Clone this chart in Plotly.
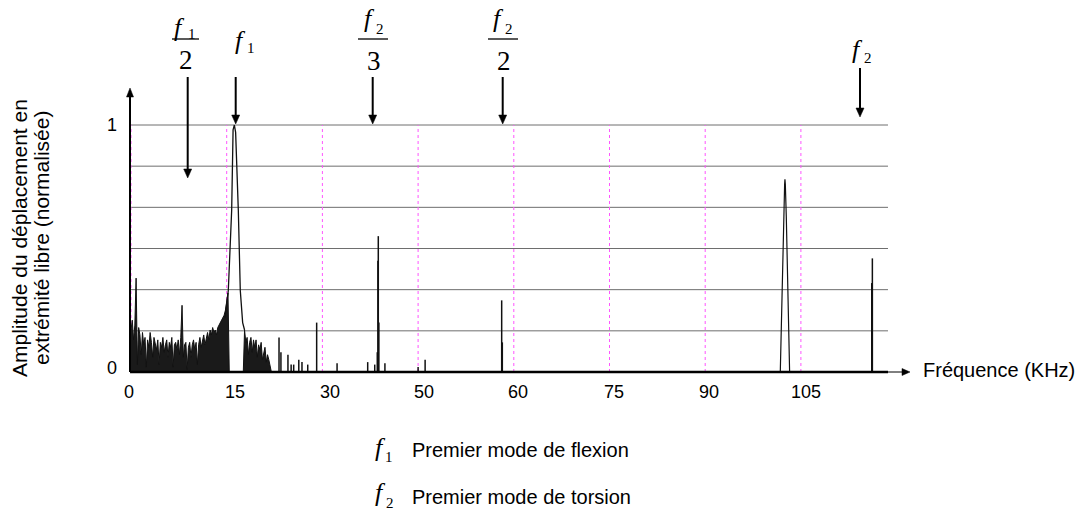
import plotly.graph_objects as go

# ---------------- data ----------------
# dense low-frequency part of the spectrum (kHz start, step, normalised amplitude)
noise_start = 0.0
noise_step = 0.2
noise_amp = [
    0.17, 0.21, 0.13, 0.19, 0.38, 0.03, 0.18, 0.15, 0.07, 0.16,
    0.11, 0.14, 0.02, 0.13, 0.10, 0.16, 0.12, 0.06, 0.14, 0.11,
    0.09, 0.13, 0.03, 0.12, 0.10, 0.14, 0.08, 0.11, 0.13, 0.06,
    0.12, 0.10, 0.14, 0.02, 0.11, 0.12, 0.09, 0.13, 0.07, 0.14,
    0.27, 0.06, 0.11, 0.12, 0.01, 0.10, 0.12, 0.06, 0.11, 0.13,
    0.09, 0.12, 0.03, 0.11, 0.14, 0.10, 0.12, 0.15, 0.11, 0.14,
    0.16, 0.13, 0.17, 0.15, 0.18, 0.16, 0.17, 0.15, 0.18, 0.19,
    0.20, 0.21, 0.22, 0.23, 0.25, 0.28, 0.32, 0.00, 0.00, 0.00,
    0.00, 0.00, 0.00, 0.00, 0.00, 0.00, 0.00, 0.00, 0.00, 0.17,
    0.12, 0.14, 0.07, 0.12, 0.14, 0.08, 0.13, 0.10, 0.13, 0.06,
    0.11, 0.09, 0.12, 0.05, 0.08, 0.10, 0.04, 0.07, 0.05, 0.02,
    0.00,
]

# first bending mode peak (f1)
f1_peak_freq = [14.73, 15.25, 15.78, 16.0, 16.2, 16.4, 16.82, 17.13, 17.5, 17.8]
f1_peak_amp = [0.22, 0.33, 0.656, 0.98, 1.0, 0.97, 0.656, 0.33, 0.20, 0.17]

# peak near 102.5 kHz
p2_freq = [101.77, 102.05, 102.29, 102.45, 102.5, 102.56, 102.71, 102.93, 103.23]
p2_amp = [0.0, 0.36, 0.63, 0.76, 0.78, 0.76, 0.63, 0.36, 0.0]

# isolated spectral lines
line_freq = [23.2, 23.5, 24.6, 25.1, 25.5, 26.3, 26.8, 27.7, 29.1, 32.3,
             37.1, 38.2, 38.6, 38.7, 38.76, 38.85, 39.8, 45.0, 46.1,
             58.1, 58.2, 116.1, 116.2]
line_amp = [0.14, 0.08, 0.07, 0.03, 0.03, 0.05, 0.04, 0.03, 0.20, 0.035,
            0.04, 0.03, 0.08, 0.45, 0.55, 0.20, 0.035, 0.02, 0.05,
            0.29, 0.12, 0.36, 0.46]

# axis ticks
x_tick_pos = [-0.3, 16.3, 31.2, 45.9, 60.7, 75.7, 90.6, 105.8]
x_tick_text = ["0", "15", "30", "50", "60", "75", "90", "105"]
y_tick_pos = [0.016, 1.0]
y_tick_text = ["0", "1"]
grid_y = [1 / 6, 2 / 6, 3 / 6, 4 / 6, 5 / 6, 1.0]
grid_x = [0, 15, 30, 45, 60, 75, 90, 105]
x_end = 118.65

# ---------------- helpers (layout placement, page pixels -> axis units) ----------------
W, H = 1079, 513


def X(px):
    return (px - 131) / 6.38


def Y(py):
    return (372 - py) / 247


SANS = "Liberation Sans, Arial, sans-serif"
SERIF = "Liberation Serif, Times New Roman, serif"

fig = go.Figure()

noise_freq = [noise_start + noise_step * i for i in range(len(noise_amp))]
fig.add_trace(go.Scatter(x=noise_freq, y=noise_amp, mode="lines",
                         line=dict(color="#111111", width=1),
                         fill="tozeroy", fillcolor="#1a1a1a",
                         hoverinfo="skip", showlegend=False))
fig.add_trace(go.Scatter(x=f1_peak_freq, y=f1_peak_amp, mode="lines",
                         line=dict(color="#111111", width=1.3),
                         hoverinfo="skip", showlegend=False))
fig.add_trace(go.Scatter(x=p2_freq, y=p2_amp, mode="lines",
                         line=dict(color="#111111", width=1.2),
                         hoverinfo="skip", showlegend=False))
lx, ly = [], []
for f, a in zip(line_freq, line_amp):
    lx += [f, f, None]
    ly += [0, a, None]
fig.add_trace(go.Scatter(x=lx, y=ly, mode="lines",
                         line=dict(color="#111111", width=1.5),
                         hoverinfo="skip", showlegend=False))

shapes = []
for gy in grid_y:
    shapes.append(dict(type="line", xref="x", yref="y", x0=0, x1=x_end, y0=gy, y1=gy,
                       line=dict(color="#6e6e6e", width=1), layer="below"))
for gx in grid_x:
    shapes.append(dict(type="line", xref="x", yref="y", x0=gx, x1=gx, y0=0, y1=1.0,
                       line=dict(color="#ff55ff", width=1, dash="dot"), layer="below"))
shapes.append(dict(type="line", xref="x", yref="y", x0=-0.15, x1=x_end, y0=0, y1=0,
                   line=dict(color="black", width=2.5)))


def arrow(x0p, y0p, x1p, y1p, width, hl, hw):
    """Arrow from page pixel (x0p,y0p) to tip (x1p,y1p)."""
    dx, dy = x1p - x0p, y1p - y0p
    n = (dx * dx + dy * dy) ** 0.5
    ux, uy = dx / n, dy / n
    bx, by = x1p - ux * hl, y1p - uy * hl
    px_, py_ = -uy, ux
    shapes.append(dict(type="line", xref="x", yref="y", x0=X(x0p), y0=Y(y0p),
                       x1=X(bx + ux * 1), y1=Y(by + uy * 1),
                       line=dict(color="black", width=width)))
    path = "M {},{} L {},{} L {},{} Z".format(
        X(x1p), Y(y1p),
        X(bx + px_ * hw / 2), Y(by + py_ * hw / 2),
        X(bx - px_ * hw / 2), Y(by - py_ * hw / 2))
    shapes.append(dict(type="path", xref="x", yref="y", path=path,
                       fillcolor="black", line=dict(color="black", width=0.5)))


# axis arrows
arrow(130, 372, 130, 88, 2, 9, 7)
arrow(887, 372, 910, 372, 1, 8, 7)

# frequency marker arrows
arrow_px = [(187.7, 77, 178), (235.7, 77, 124), (372.7, 77, 124), (502.7, 77, 124), (860, 68, 117)]
for xp, y0p, y1p in arrow_px:
    arrow(xp, y0p, xp, y1p, 2, 9, 8)

annotations = []


def text(px, py, t, size, family=SANS, anchor="center", italic=False, angle=0):
    font = dict(family=family, size=size, color="black")
    if italic:
        font["style"] = "italic"
    annotations.append(dict(x=X(px), y=Y(py), xref="x", yref="y", text=t, showarrow=False,
                            xanchor=anchor, yanchor="middle", textangle=angle, font=font))


for p, t in zip(x_tick_pos, x_tick_text):
    annotations.append(dict(x=p, y=Y(392), xref="x", yref="y", text=t, showarrow=False,
                            xanchor="center", yanchor="middle",
                            font=dict(family=SANS, size=18, color="black")))
for p, t in zip(y_tick_pos, y_tick_text):
    annotations.append(dict(x=X(112), y=p, xref="x", yref="y", text=t, showarrow=False,
                            xanchor="center", yanchor="middle",
                            font=dict(family=SANS, size=18, color="black")))

text(921, 370, "Fréquence (KHz)", 20, anchor="left")
text(19, 238, "Amplitude du déplacement en", 21, angle=-90)
text(41, 238, "extrémité libre (normalisée)", 21, angle=-90)


def fsym(fx, fy, sub, sx, sy):
    """italic f with subscript digit; positions are glyph centres in page pixels."""
    text(fx, fy - 3, "f", 26, family=SERIF, italic=True)
    text(sx, sy, sub, 15, family=SERIF)


# fraction labels f1/2, f2/3, f2/2
fsym(179.5, 30, "1", 192, 34)
text(186, 60, "2", 27, family=SERIF)
shapes.append(dict(type="line", xref="x", yref="y", x0=X(172), x1=X(199), y0=Y(39), y1=Y(39),
                   line=dict(color="black", width=1.3)))

fsym(369, 21, "2", 379.5, 29)
text(373.5, 61, "3", 27, family=SERIF)
shapes.append(dict(type="line", xref="x", yref="y", x0=X(358), x1=X(388), y0=Y(39), y1=Y(39),
                   line=dict(color="black", width=1.3)))

fsym(498.5, 21, "2", 509, 29)
text(503.5, 61, "2", 27, family=SERIF)
shapes.append(dict(type="line", xref="x", yref="y", x0=X(488), x1=X(518), y0=Y(39), y1=Y(39),
                   line=dict(color="black", width=1.3)))

# single labels f1, f2
fsym(240.5, 43.5, "1", 250.5, 48)
fsym(857.5, 52.5, "2", 868, 58)

# notes
fsym(380, 450, "1", 389, 457)
text(410, 450, "Premier mode de flexion", 20, anchor="left")
fsym(380, 495.5, "2", 389.5, 503)
text(410, 497, "Premier mode de torsion", 20, anchor="left")

fig.update_layout(
    width=W, height=H,
    margin=dict(l=0, r=0, t=0, b=0, pad=0),
    paper_bgcolor="white", plot_bgcolor="white",
    xaxis=dict(range=[X(0), X(W)], visible=False, fixedrange=True),
    yaxis=dict(range=[Y(H), Y(0)], visible=False, fixedrange=True),
    shapes=shapes, annotations=annotations, showlegend=False,
)

fig.write_html("out.html", config={"displayModeBar": False},
               post_script="document.body.style.margin='0px';")
